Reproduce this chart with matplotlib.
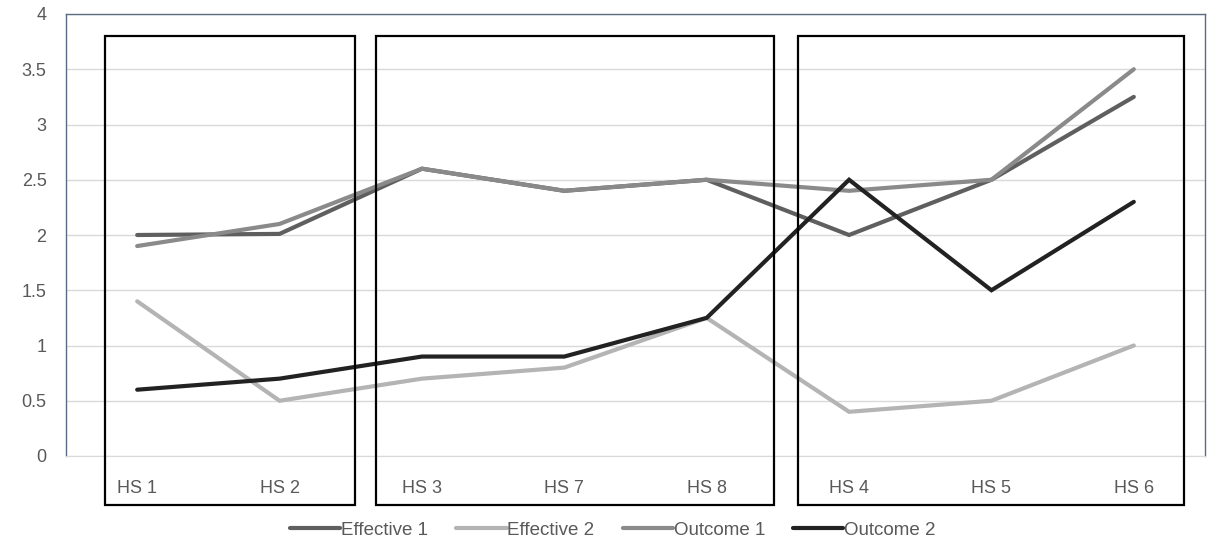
import matplotlib.pyplot as plt
from matplotlib.patches import Rectangle

# datos
categories = ['HS 1', 'HS 2', 'HS 3', 'HS 7', 'HS 8', 'HS 4', 'HS 5', 'HS 6']
effective_1 = [2.0, 2.01, 2.6, 2.4, 2.5, 2.0, 2.5, 3.25]
effective_2 = [1.4, 0.5, 0.7, 0.8, 1.25, 0.4, 0.5, 1.0]
outcome_1 = [1.9, 2.1, 2.6, 2.4, 2.5, 2.4, 2.5, 3.5]
outcome_2 = [0.6, 0.7, 0.9, 0.9, 1.25, 2.5, 1.5, 2.3]
y_ticks = [0, 0.5, 1, 1.5, 2, 2.5, 3, 3.5, 4]

plt.rcParams['font.family'] = ['Liberation Sans', 'DejaVu Sans']
text_color = '#595959'
frame_color = '#5a6b82'

fig = plt.figure(figsize=(12.23, 5.6), dpi=100)
ax = fig.add_axes([66 / 1223, 1 - 456 / 560, (1205 - 66) / 1223, (456 - 14) / 560])

x = list(range(len(categories)))
series = [
    ('Effective 1', effective_1, '#5f5f5f'),
    ('Effective 2', effective_2, '#b4b4b4'),
    ('Outcome 1', outcome_1, '#8a8a8a'),
    ('Outcome 2', outcome_2, '#222222'),
]
for name, vals, col in series:
    ax.plot(x, vals, color=col, linewidth=3, solid_capstyle='round',
            solid_joinstyle='miter', label=name, zorder=3)

ax.set_xlim(-0.5, len(categories) - 0.5)
ax.set_ylim(0, 4)
ax.set_yticks(y_ticks)
ax.set_yticklabels(['0', '0.5', '1', '1.5', '2', '2.5', '3', '3.5', '4'])
ax.set_xticks(x)
ax.set_xticklabels(categories)
ax.tick_params(axis='both', length=0, labelsize=13, colors=text_color)
ax.tick_params(axis='x', pad=17)
ax.tick_params(axis='y', pad=14)

ax.grid(axis='y', color='#d9d9d9', linewidth=1)
ax.set_axisbelow(True)
for s in ['top', 'left', 'right']:
    ax.spines[s].set_color(frame_color)
    ax.spines[s].set_linewidth(1)
ax.spines['bottom'].set_color('#d9d9d9')

# cajas de agrupación
boxes = [(-0.225, 1.53), (1.678, 4.473), (4.642, 7.353)]
for x0, x1 in boxes:
    ax.add_patch(Rectangle((x0, -0.443), x1 - x0, 3.8 + 0.443, fill=False,
                           edgecolor='black', linewidth=1.6, clip_on=False, zorder=4))

leg = fig.legend(loc='center', bbox_to_anchor=(613 / 1223, 1 - 530 / 560), ncol=4,
                 frameon=False, fontsize=13.5, handlelength=2.67, handletextpad=0.05,
                 columnspacing=1.5)
for t in leg.get_texts():
    t.set_color(text_color)

fig.savefig('out.png', dpi=100)
